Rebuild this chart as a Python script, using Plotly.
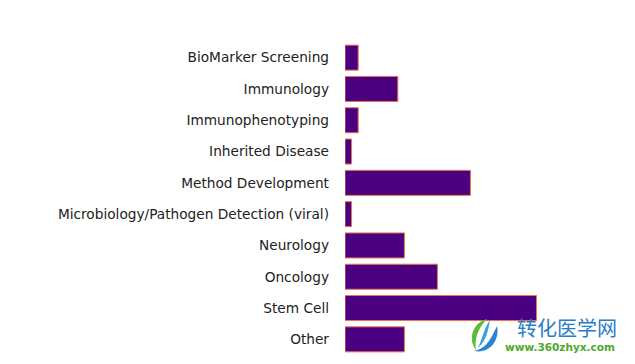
import plotly.graph_objects as go

categories = ["BioMarker Screening", "Immunology", "Immunophenotyping", "Inherited Disease",
              "Method Development", "Microbiology/Pathogen Detection (viral)", "Neurology",
              "Oncology", "Stem Cell", "Other"]
values = [2, 8, 2, 1, 19, 1, 9, 14, 29, 9]

# page has an 8px body margin: figure drawn from (8, 8)
OFF = 8
W, H = 627, 356
ML, MR, MT, MB = 337, 10, 34, 9
PW, PH = W - ML - MR, H - MT - MB


def px(x):
    return (x - OFF - ML) / PW


def py(y):
    return (H - MB - (y - OFF)) / PH


fig = go.Figure(go.Bar(
    x=values, y=categories, orientation="h",
    marker=dict(color="#4B0082", line=dict(color="#E8784A", width=1)),
))
fig.update_layout(
    width=W, height=H,
    margin=dict(l=ML, r=MR, t=MT, b=MB, autoexpand=False),
    paper_bgcolor="white", plot_bgcolor="white",
    bargap=0.2, showlegend=False,
    font=dict(family="DejaVu Sans", size=13.7, color="#222222"),
    xaxis=dict(range=[0, 42.4], visible=False, fixedrange=True, automargin=False),
    yaxis=dict(autorange="reversed", showline=False, showgrid=False, zeroline=False,
               automargin=False, ticks="", ticklabelstandoff=15,
               tickfont=dict(size=13.7, color="#222222")),
)


def path(points):
    d = "M {:.4f},{:.4f}".format(px(points[0][0]), py(points[0][1]))
    for i in range(1, len(points), 3):
        (a, b), (c, e), (f, g) = points[i], points[i + 1], points[i + 2]
        d += " C {:.4f},{:.4f} {:.4f},{:.4f} {:.4f},{:.4f}".format(px(a), py(b), px(c), py(e), px(f), py(g))
    return d + " Z"


# watermark logo (approximate swirl)
green = [(487, 319), (474, 322), (467, 338), (476, 350), (474, 340), (478, 328), (487, 319)]
blue = [(497, 326), (500, 340), (490, 354), (474, 351), (488, 348), (492, 336), (497, 326)]
blue2 = [(490, 320), (484, 328), (482, 340), (478, 348), (487, 340), (488, 330), (490, 320)]
for pts, col in [(green, "#5DBB3A"), (blue, "#2A84D0"), (blue2, "#3FA0D8")]:
    fig.add_shape(type="path", xref="paper", yref="paper", path=path(pts),
                  fillcolor=col, line=dict(width=0), layer="above")

fig.add_annotation(text="转化医学网", xref="paper", yref="paper", x=px(619), y=py(327),
                   xanchor="right", yanchor="middle", showarrow=False,
                   font=dict(family="Noto Sans CJK SC", size=20, color="#2A7CC7"))
fig.add_annotation(text="<b>www.360zhyx.com</b>", xref="paper", yref="paper", x=px(617), y=py(347),
                   xanchor="right", yanchor="middle", showarrow=False,
                   font=dict(family="DejaVu Sans", size=10.5, color="#4DAA2A"))
fig.write_html("out.html")
